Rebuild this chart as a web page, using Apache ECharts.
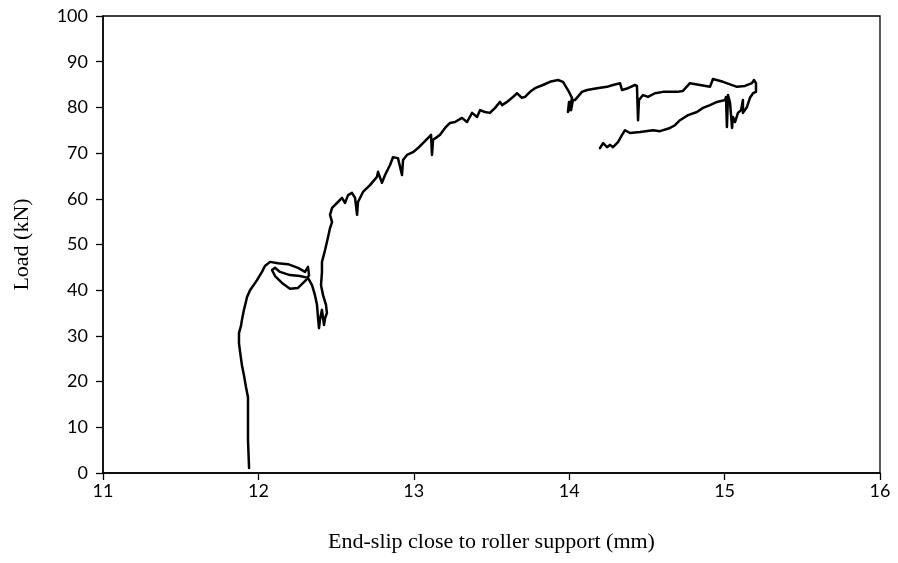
<!DOCTYPE html>
<html>
<head>
<meta charset="utf-8">
<script src="https://cdn.jsdelivr.net/npm/echarts@6/dist/echarts.min.js"></script>
<style>html,body{margin:0;padding:0;background:#fff}#c{width:898px;height:563px}</style>
</head>
<body>
<div id="c"></div>
<script>
// End-slip (mm) values
const slip = [11.940,11.933,11.933,11.933,11.920,11.907,11.894,11.882,11.875,11.875,11.888,11.894,11.907,11.927,11.946,11.965,11.991,12.023,12.042,12.075,12.126,12.190,12.255,12.300,12.319,12.326,12.306,12.255,12.203,12.152,12.107,12.088,12.107,12.139,12.203,12.268,12.319,12.345,12.364,12.377,12.384,12.390,12.396,12.409,12.422,12.429,12.441,12.435,12.416,12.403,12.409,12.409,12.429,12.448,12.461,12.474,12.461,12.474,12.512,12.538,12.557,12.577,12.602,12.622,12.635,12.641,12.673,12.718,12.763,12.770,12.795,12.815,12.847,12.866,12.898,12.924,12.931,12.956,12.995,13.027,13.059,13.091,13.111,13.117,13.124,13.149,13.169,13.201,13.233,13.265,13.310,13.342,13.375,13.407,13.426,13.458,13.490,13.523,13.555,13.568,13.600,13.632,13.664,13.696,13.716,13.748,13.780,13.831,13.876,13.928,13.960,13.992,14.018,14.005,13.992,13.999,14.012,14.024,14.037,14.082,14.115,14.179,14.243,14.282,14.327,14.340,14.378,14.423,14.436,14.443,14.449,14.475,14.507,14.552,14.604,14.694,14.732,14.777,14.842,14.906,14.925,14.990,15.080,15.131,15.176,15.189,15.202,15.202,15.183,15.163,15.144,15.118,15.118,15.106,15.086,15.067,15.054,15.048,15.035,15.022,15.015,15.009,15.003,14.951,14.906,14.861,14.822,14.765,14.713,14.681,14.649,14.584,14.539,14.456,14.391,14.359,14.340,14.314,14.282,14.263,14.243,14.218,14.198];
// Load (kN) values
const load = [1.1,7.2,13.8,16.6,18.8,21.4,23.6,26.5,28.4,30.6,32.2,33.5,35.7,38.5,40.0,40.9,42.2,44.0,45.3,46.2,45.9,45.7,44.9,44.0,45.1,43.3,42.2,40.5,40.3,41.6,43.1,44.4,44.9,44.0,43.3,43.1,42.7,41.1,38.9,36.8,33.9,31.7,33.5,35.7,32.4,33.9,35.0,36.8,38.9,41.1,44.0,46.2,48.8,51.6,53.6,54.9,56.5,58.0,59.3,60.2,59.1,60.8,61.3,60.2,56.5,59.3,61.5,63.0,64.8,65.9,63.5,65.2,67.4,69.1,68.9,65.2,68.5,69.6,70.2,71.1,72.2,73.3,74.0,69.6,72.9,73.5,74.0,75.5,76.6,76.8,77.7,76.8,78.8,77.9,79.4,79.0,78.8,79.9,81.2,80.5,81.2,82.1,83.1,82.1,82.3,83.4,84.2,84.9,85.6,86.0,85.6,83.8,82.1,79.9,79.0,81.2,79.4,81.6,81.6,83.4,83.8,84.2,84.5,84.9,85.3,83.8,84.2,84.9,84.7,77.2,81.6,82.7,82.3,83.1,83.4,83.4,83.6,85.3,84.9,84.5,86.2,85.6,84.5,84.7,85.3,86.0,85.3,83.4,83.1,82.1,80.1,78.8,81.6,79.4,78.8,76.8,77.9,75.5,81.0,82.7,75.7,82.3,81.6,81.2,80.5,79.9,79.0,78.3,77.2,76.1,75.5,74.8,75.0,74.6,74.4,75.0,74.0,72.4,71.3,71.8,71.3,72.2,71.1];
const xTicks = [11, 12, 13, 14, 15, 16];
const yTicks = [0, 10, 20, 30, 40, 50, 60, 70, 80, 90, 100];

const pts = slip.map((x, i) => [x, load[i]]);
const chart = echarts.init(document.getElementById('c'), null, {renderer: 'canvas'});
const tickFont = {fontFamily: 'Lato', fontSize: 18, color: '#000'};
chart.setOption({
  animation: false,
  backgroundColor: '#fff',
  grid: {left: 103, right: 18, top: 16, bottom: 90, show: true, borderColor: '#000', borderWidth: 1.3, backgroundColor: 'transparent'},
  xAxis: {
    type: 'value', min: xTicks[0], max: xTicks[xTicks.length - 1], interval: 1,
    name: 'End-slip close to roller support (mm)', nameLocation: 'middle', nameGap: 58,
    nameTextStyle: {fontFamily: 'Liberation Serif', fontSize: 22, color: '#000'},
    axisLine: {lineStyle: {color: '#000', width: 1.5}},
    axisTick: {show: true, length: 7, lineStyle: {color: '#000', width: 1.3}},
    axisLabel: Object.assign({margin: 9}, tickFont),
    splitLine: {show: false}
  },
  yAxis: {
    type: 'value', min: yTicks[0], max: yTicks[yTicks.length - 1], interval: 10,
    name: 'Load (kN)', nameLocation: 'middle', nameGap: 70,
    nameTextStyle: {fontFamily: 'Liberation Serif', fontSize: 22, color: '#000'},
    axisLine: {show: true, lineStyle: {color: '#000', width: 1.5}},
    axisTick: {show: true, length: 7, lineStyle: {color: '#000', width: 1.3}},
    axisLabel: Object.assign({margin: 15}, tickFont),
    splitLine: {show: false}
  },
  series: [{
    type: 'line', data: pts, showSymbol: false, smooth: false,
    lineStyle: {color: '#000', width: 2.5, join: 'round', cap: 'round'}
  }]
});
</script>
</body>
</html>
